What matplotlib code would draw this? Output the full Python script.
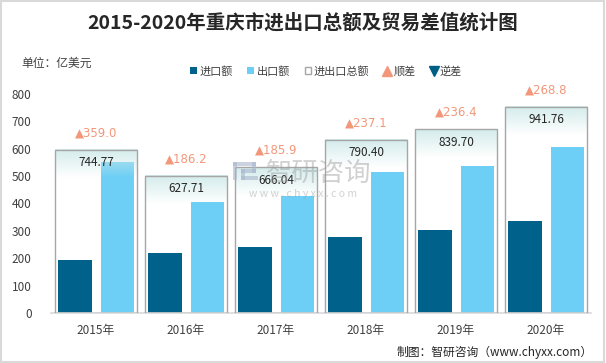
import numpy as np
import matplotlib
matplotlib.use("Agg")
import matplotlib.pyplot as plt
from matplotlib.patches import Rectangle, Patch
from matplotlib.lines import Line2D

plt.rcParams["font.family"] = ["Noto Sans CJK SC", "DejaVu Sans"]

# ── datos (亿美元) ──
years = ["2015年", "2016年", "2017年", "2018年", "2019年", "2020年"]
imports = [192.9, 220.8, 240.1, 276.7, 301.7, 336.5]
exports = [551.9, 406.9, 426.0, 513.8, 538.0, 605.3]
totals = [744.77, 627.71, 666.04, 790.40, 839.70, 941.76]
surplus = [359.0, 186.2, 185.9, 237.1, 236.4, 268.8]
yticks = [0, 100, 200, 300, 400, 500, 600, 700, 800]

C_IMP = "#00628A"
C_EXP = "#6DCFF6"
C_UP = "#F3977A"
C_DOWN = "#005F85"

W, H = 606, 363
fig = plt.figure(figsize=(W / 100, H / 100), dpi=100)
fig.patch.set_facecolor("white")


def fx(px):
    return px / W


def fy(py):
    return 1 - py / H


ax = fig.add_axes([fx(51), fy(313), 540 / W, 219 / H])
ax2 = ax.twinx()

x = np.arange(len(years))
ax.bar(x - 0.235, imports, width=0.37, color=C_IMP, zorder=2)
ax.bar(x + 0.235, exports, width=0.37, color=C_EXP, zorder=2)
ax.set_ylim(0, 800)
ax.set_xlim(-0.5, len(years) - 0.5)
ax.set_yticks(yticks)
ax.set_xticks(x)
ax.set_xticklabels(years)
ax.tick_params(axis="both", length=0, labelsize=8.5, colors="#404040")
ax.tick_params(axis="x", pad=8)
ax.tick_params(axis="y", pad=14)
for s in ["top", "right", "left"]:
    ax.spines[s].set_visible(False)
ax.spines["bottom"].set_color("#D9D9D9")
ax.spines["bottom"].set_linewidth(1.2)

# eje secundario (oculto) para el total
ax2.set_yticks([])
for s in ax2.spines.values():
    s.set_visible(False)

# degradado superior de las cajas
grad = np.zeros((64, 1, 4))
grad[..., :3] = [0.80, 0.91, 0.91]
grad[:, 0, 3] = np.linspace(0.85, 0.0, 64)

bw = 0.922
for i, t in enumerate(totals):
    ax2.imshow(grad, extent=[i - bw / 2, i + bw / 2, t - 130, t], aspect="auto",
               zorder=3, interpolation="bilinear")
    ax2.add_patch(Rectangle((i - bw / 2, 0), bw, t, facecolor="none",
                            edgecolor="#A6A6A6", linewidth=1.0, zorder=4))
    ax2.annotate(f"{t:.2f}", (i, t), xytext=(0, -13), textcoords="offset pixels",
                 ha="center", va="center", fontsize=8.5, color="#262626", zorder=5)
    ax2.annotate(f"▲{surplus[i]:.1f}", (i, t), xytext=(0, 17), textcoords="offset pixels",
                 ha="center", va="center", fontsize=8.5, color=C_UP, zorder=5,
                 annotation_clip=False, family=["DejaVu Sans"])
ax2.set_xlim(-0.5, len(years) - 0.5)
ax2.set_ylim(0, 1000)

# marca de agua (logo + texto)
logo_c = "#A9B6CC"
for (x0, y0, x1, y1) in [(233, 162, 237, 180), (233, 162, 256, 166), (252, 162, 256, 173),
                         (241, 169, 256, 173), (241, 169, 245, 180), (241, 176, 258, 180)]:
    fig.add_artist(Rectangle((fx(x0), fy(y1)), (x1 - x0) / W, (y1 - y0) / H,
                             transform=fig.transFigure, facecolor=logo_c,
                             edgecolor="none", alpha=0.6, zorder=10))
fig.text(fx(319), fy(173), "智研咨询", fontsize=19, color="#9A9A9A", alpha=0.45,
         ha="center", va="center", zorder=10)
fig.text(fx(303), fy(194), "w w w . c h y x x . c o m", fontsize=7.5, color="#9A9A9A",
         alpha=0.45, ha="center", va="center", zorder=10)

# textos
fig.text(0.5, fy(23), "2015-2020年重庆市进出口总额及贸易差值统计图",
         fontsize=14, fontweight="bold", color="#262626", ha="center", va="center")
fig.text(fx(21), fy(63), "单位：亿美元", fontsize=8.5, color="#404040",
         ha="left", va="center")
fig.text(fx(593), fy(352), "制图：智研咨询（www.chyxx.com）", fontsize=8.5,
         color="#262626", ha="right", va="center")

handles = [
    Patch(facecolor=C_IMP, edgecolor="none"),
    Patch(facecolor=C_EXP, edgecolor="none"),
    Patch(facecolor="white", edgecolor="#A6A6A6"),
    Line2D([], [], marker="^", color=C_UP, linestyle="none", markersize=7),
    Line2D([], [], marker="v", color=C_DOWN, linestyle="none", markersize=7),
]
labels = ["进口额", "出口额", "进出口总额", "顺差", "逆差"]
fig.legend(handles, labels, loc="center", bbox_to_anchor=(fx(326), fy(71)), ncol=5,
           frameon=False, fontsize=8, handlelength=0.6, handleheight=0.6,
           handletextpad=0.25, columnspacing=1.3, labelcolor="#404040")

# borde
fig.add_artist(Rectangle((0.002, 0.003), 0.994, 0.993, transform=fig.transFigure,
                         facecolor="none", edgecolor="#D9D9D9", linewidth=1.5))

fig.savefig("out.png", dpi=100)
